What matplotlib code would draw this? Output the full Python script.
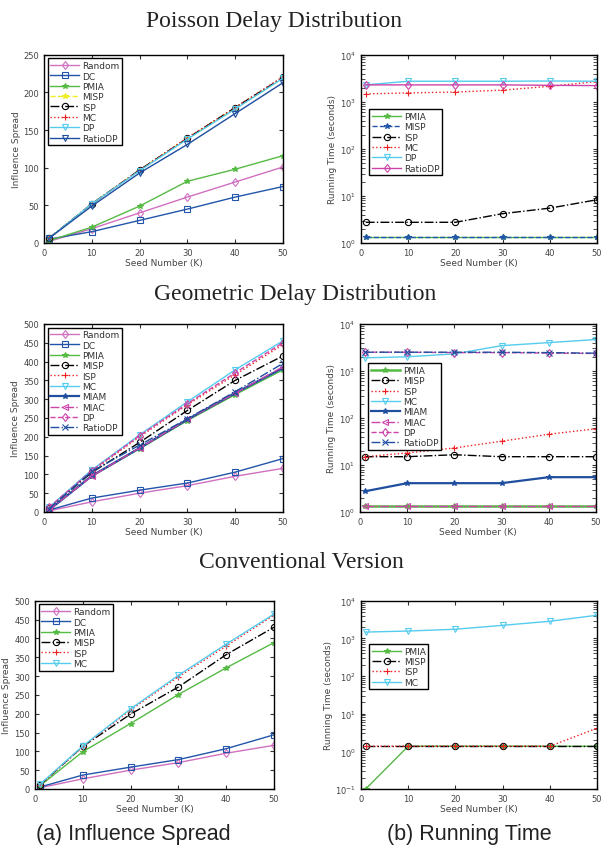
import matplotlib
matplotlib.use("Agg")
import matplotlib.pyplot as plt

# numero de semillas (K)
seeds = [1, 10, 20, 30, 40, 50]

# Poisson - influence spread
poi_random = [2, 19, 40, 61, 81, 101]
poi_dc = [5, 15, 30, 45, 61, 75]
poi_pmia = [3, 21, 49, 82, 98, 116]
poi_misp = [6, 52, 97, 139, 179, 219]
poi_isp = [6, 52, 97, 139, 180, 220]
poi_mc = [6, 52, 97, 140, 180, 221]
poi_dp = [6, 52, 96, 138, 178, 219]
poi_ratiodp = [6, 49, 93, 131, 172, 213]

# Poisson - running time
poi_t_pmia = [1.37, 1.37, 1.37, 1.37, 1.37, 1.37]
poi_t_misp = [1.37, 1.37, 1.37, 1.37, 1.37, 1.37]
poi_t_isp = [2.75, 2.75, 2.75, 4.2, 5.5, 8.3]
poi_t_mc = [1480, 1550, 1620, 1780, 2150, 2700]
poi_t_dp = [2300, 2750, 2750, 2750, 2780, 2750]
poi_t_ratiodp = [2300, 2300, 2300, 2300, 2250, 2220]

# Geometric - influence spread
geo_random = [3, 27, 50, 70, 95, 116]
geo_dc = [5, 37, 58, 77, 106, 142]
geo_pmia = [5, 95, 168, 243, 312, 378]
geo_misp = [10, 105, 185, 270, 350, 415]
geo_isp = [10, 108, 200, 285, 365, 445]
geo_mc = [12, 112, 205, 293, 378, 455]
geo_miam = [5, 96, 170, 246, 316, 383]
geo_miac = [5, 95, 170, 246, 316, 386]
geo_dp = [12, 110, 203, 288, 370, 450]
geo_ratiodp = [8, 108, 178, 248, 320, 395]

# Geometric - running time
geo_t_pmia = [1.37, 1.37, 1.37, 1.37, 1.37, 1.37]
geo_t_misp = [15, 15, 16.5, 15, 15, 15]
geo_t_isp = [15, 18, 23, 32, 45, 59]
geo_t_mc = [1900, 2000, 2300, 3450, 4000, 4650]
geo_t_miam = [2.75, 4.1, 4.1, 4.1, 5.5, 5.5]
geo_t_miac = [1.37, 1.37, 1.37, 1.37, 1.37, 1.37]
geo_t_dp = [2500, 2500, 2450, 2450, 2400, 2350]
geo_t_ratiodp = [2500, 2500, 2500, 2500, 2450, 2380]

# Conventional - influence spread
con_random = [3, 27, 50, 70, 95, 116]
con_dc = [5, 37, 58, 78, 107, 144]
con_pmia = [8, 99, 174, 251, 322, 389]
con_misp = [10, 113, 199, 271, 357, 430]
con_isp = [10, 112, 210, 298, 380, 462]
con_mc = [12, 114, 213, 302, 385, 465]

# Conventional - running time
con_t_pmia = [0.1, 1.37, 1.37, 1.37, 1.37, 1.37]
con_t_misp = [1.37, 1.37, 1.37, 1.37, 1.37, 1.37]
con_t_isp = [1.37, 1.37, 1.37, 1.37, 1.37, 4.1]
con_t_mc = [1480, 1580, 1760, 2240, 2870, 4150]

MAG = '#cc44aa'
MAG2 = '#d070c0'
BLUE = '#2255aa'
DBLUE = '#1f4e9f'
GREEN = '#55bb44'
YEL = '#eeee22'
CYAN = '#55ccee'
RED = '#ee2222'

# estilos: (color, linestyle, marker, hueco, grosor)
estilos = {
    'Random': (MAG2, '-', 'd', True, 1.0),
    'DC': (BLUE, '-', 's', True, 1.0),
    'PMIA': (GREEN, '-', '*', False, 1.0),
    'MISP_y': (YEL, '--', '*', False, 1.0),
    'MISP_b': (BLUE, '--', '*', False, 1.0),
    'MISP_k': ('black', '-.', 'o', True, 1.0),
    'ISP_k': ('black', '-.', 'o', True, 1.0),
    'ISP_r': (RED, ':', '+', False, 1.0),
    'MC_r': (RED, ':', '+', False, 1.0),
    'MC_c': (CYAN, '-', 'v', True, 1.0),
    'DP_c': (CYAN, '-', 'v', True, 1.0),
    'DP_m': (MAG, '--', 'd', True, 1.0),
    'RatioDP_b': (DBLUE, '-', 'v', True, 1.0),
    'RatioDP_m': (MAG, '-', 'd', True, 1.0),
    'RatioDP_x': (DBLUE, '-.', 'x', False, 1.0),
    'MIAM': (DBLUE, '-', '*', False, 1.6),
    'MIAC': (MAG, '-.', '<', True, 1.0),
    'PMIA_g': (GREEN, '-', '*', False, 1.8),
}


def linea(ax, y, nombre, clave):
    c, ls, mk, hueco, lw = estilos[clave]
    ax.plot(seeds, y, color=c, linestyle=ls, marker=mk, lw=lw, ms=4.5 if mk != '*' else 4,
            mfc='none' if hueco else c, mec=c, mew=0.8, label=nombre)


def formato(ax, ylabel, log=False):
    ax.set_xlim(0, 50)
    ax.set_xticks([0, 10, 20, 30, 40, 50])
    ax.tick_params(direction='in', top=True, right=True, labelsize=6, length=3,
                   colors='#333333', labelcolor='#444444', which='both')
    ax.set_xlabel('Seed Number (K)', fontsize=6.5, color='#444444', labelpad=1)
    ax.set_ylabel(ylabel, fontsize=6.5, color='#444444', labelpad=2)
    for s in ax.spines.values():
        s.set_linewidth(1.0)
        s.set_color('black')
    if log:
        ax.set_yscale('log')


def leyenda(ax, **kw):
    lg = ax.legend(fontsize=6.5, fancybox=False, edgecolor='black', framealpha=1,
                   handlelength=3.2, borderpad=0.3, labelspacing=0.15, handletextpad=0.3,
                   borderaxespad=0.4, **kw)
    lg.get_frame().set_linewidth(1.0)
    for t in lg.get_texts():
        t.set_color('#333333')


fig = plt.figure(figsize=(6.02, 8.53), dpi=100)

h = 0.2205
w = 0.397
wr = 0.392
ax1 = fig.add_axes([0.0731, 0.714, w, h])
ax2 = fig.add_axes([0.5997, 0.714, wr, h])
ax3 = fig.add_axes([0.0731, 0.3986, w, h])
ax4 = fig.add_axes([0.598, 0.3986, wr, h])
ax5 = fig.add_axes([0.0581, 0.0739, w, h])
ax6 = fig.add_axes([0.5997, 0.0739, wr, h])

# Poisson
linea(ax1, poi_random, 'Random', 'Random')
linea(ax1, poi_dc, 'DC', 'DC')
linea(ax1, poi_pmia, 'PMIA', 'PMIA')
linea(ax1, poi_misp, 'MISP', 'MISP_y')
linea(ax1, poi_isp, 'ISP', 'ISP_k')
linea(ax1, poi_mc, 'MC', 'MC_r')
linea(ax1, poi_dp, 'DP', 'DP_c')
linea(ax1, poi_ratiodp, 'RatioDP', 'RatioDP_b')
formato(ax1, 'Influence Spread')
ax1.set_ylim(0, 250)
leyenda(ax1, loc='upper left')

linea(ax2, poi_t_pmia, 'PMIA', 'PMIA')
linea(ax2, poi_t_misp, 'MISP', 'MISP_b')
linea(ax2, poi_t_isp, 'ISP', 'ISP_k')
linea(ax2, poi_t_mc, 'MC', 'MC_r')
linea(ax2, poi_t_dp, 'DP', 'DP_c')
linea(ax2, poi_t_ratiodp, 'RatioDP', 'RatioDP_m')
formato(ax2, 'Running Time (seconds)', log=True)
ax2.set_ylim(1, 1e4)
leyenda(ax2, loc='upper left', bbox_to_anchor=(0.02, 0.73))

# Geometric
linea(ax3, geo_random, 'Random', 'Random')
linea(ax3, geo_dc, 'DC', 'DC')
linea(ax3, geo_pmia, 'PMIA', 'PMIA')
linea(ax3, geo_misp, 'MISP', 'MISP_k')
linea(ax3, geo_isp, 'ISP', 'ISP_r')
linea(ax3, geo_mc, 'MC', 'MC_c')
linea(ax3, geo_miam, 'MIAM', 'MIAM')
linea(ax3, geo_miac, 'MIAC', 'MIAC')
linea(ax3, geo_dp, 'DP', 'DP_m')
linea(ax3, geo_ratiodp, 'RatioDP', 'RatioDP_x')
formato(ax3, 'Influence Spread')
ax3.set_ylim(0, 500)
ax3.set_yticks(range(0, 501, 50))
leyenda(ax3, loc='upper left')

linea(ax4, geo_t_pmia, 'PMIA', 'PMIA_g')
linea(ax4, geo_t_misp, 'MISP', 'MISP_k')
linea(ax4, geo_t_isp, 'ISP', 'ISP_r')
linea(ax4, geo_t_mc, 'MC', 'MC_c')
linea(ax4, geo_t_miam, 'MIAM', 'MIAM')
linea(ax4, geo_t_miac, 'MIAC', 'MIAC')
linea(ax4, geo_t_dp, 'DP', 'DP_m')
linea(ax4, geo_t_ratiodp, 'RatioDP', 'RatioDP_x')
formato(ax4, 'Running Time (seconds)', log=True)
ax4.set_ylim(1, 1e4)
leyenda(ax4, loc='upper left', bbox_to_anchor=(0.02, 0.81))

# Conventional
linea(ax5, con_random, 'Random', 'Random')
linea(ax5, con_dc, 'DC', 'DC')
linea(ax5, con_pmia, 'PMIA', 'PMIA')
linea(ax5, con_misp, 'MISP', 'MISP_k')
linea(ax5, con_isp, 'ISP', 'ISP_r')
linea(ax5, con_mc, 'MC', 'MC_c')
formato(ax5, 'Influence Spread')
ax5.set_ylim(0, 500)
ax5.set_yticks(range(0, 501, 50))
leyenda(ax5, loc='upper left')

linea(ax6, con_t_pmia, 'PMIA', 'PMIA')
linea(ax6, con_t_misp, 'MISP', 'MISP_k')
linea(ax6, con_t_isp, 'ISP', 'ISP_r')
linea(ax6, con_t_mc, 'MC', 'MC_c')
formato(ax6, 'Running Time (seconds)', log=True)
ax6.set_ylim(0.1, 1e4)
leyenda(ax6, loc='upper left', bbox_to_anchor=(0.02, 0.79))

# titulos de cada fila
tit = dict(ha='center', va='center', fontsize=17, family='Liberation Serif', color='#222222')
fig.text(0.455, 0.975, 'Poisson Delay Distribution', **tit)
fig.text(0.49, 0.655, 'Geometric Delay Distribution', **tit)
fig.text(0.5, 0.340, 'Conventional Version', **tit)

cap = dict(ha='center', va='center', fontsize=15.5, family='Liberation Sans', color='#222222')
fig.text(0.222, 0.022, '(a) Influence Spread', **cap)
fig.text(0.78, 0.022, '(b) Running Time', **cap)

fig.savefig('out.png', dpi=100)
